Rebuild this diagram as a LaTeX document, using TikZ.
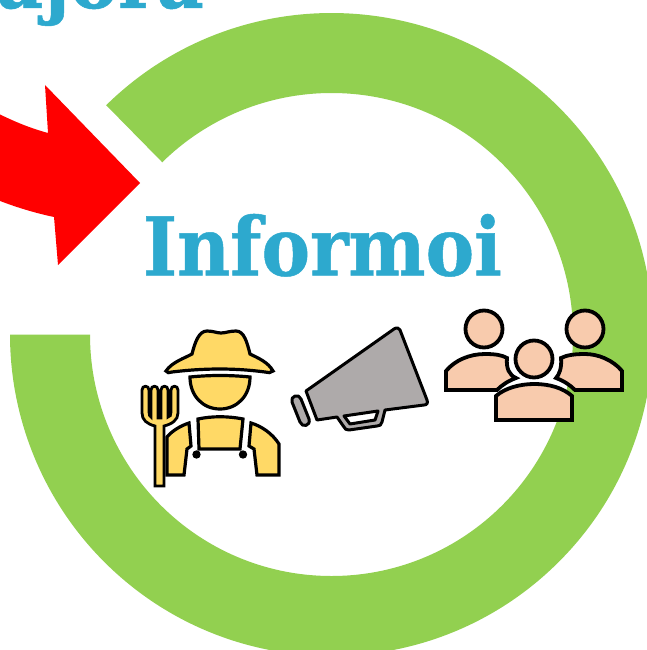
\documentclass[tikz,border=0pt]{standalone}
\usepackage{fontspec}
\newfontfamily\serifb[FakeBold=0.6]{DejaVu Serif Condensed Bold}
\definecolor{ringgreen}{HTML}{92D050}
\definecolor{titleblue}{HTML}{2DA9CE}
\definecolor{hatyellow}{HTML}{FFD966}
\definecolor{horngray}{HTML}{AEAAAA}
\definecolor{skinpeach}{HTML}{F8CBAD}
\tikzset{
 icon/.style={draw=black,line width=3.8pt,line join=miter},
 farmerline/.style={draw=black,line width=3.2pt,line join=miter},
 hornline/.style={draw=black,line width=3pt,line join=round},
 title/.style={text=titleblue,font=\serifb\fontsize{81}{81}\selectfont,inner sep=0pt,anchor=base}
}
\begin{document}
\begin{tikzpicture}[x=1pt,y=-1pt]
\useasboundingbox (0,0) rectangle (647,650);
\clip (0,0) rectangle (647,650);
\fill[white] (0,0) rectangle (647,650);
% ring
\fill[ringgreen] (331.5,334.5) ++(-134.5:321.5) arc[start angle=-134.5,end angle=180,radius=321.5] -- ++(80,0) arc[start angle=180,end angle=-134.5,radius=241.5] -- cycle;
% arrow
\fill[red] (-5,112) .. controls (15,122) and (30,128) .. (48,133) -- (45,85) -- (140,183) -- (58,265) -- (54,217) .. controls (35,213) and (15,207) .. (-5,199) -- cycle;
% text
\node[title] (informoi) at (322.5,275.5) {Informoi};
\node[title] (mejora) at (100,8) {ajora};
% farmer
\draw[farmerline,fill=hatyellow] (166,371) .. controls (172,362) and (185,358) .. (192,354) .. controls (195,342) and (199,331) .. (207,331) .. controls (213,331) and (217,333) .. (221,333) .. controls (225,333) and (230,331) .. (236,331) .. controls (244,331) and (247,342) .. (250,354) .. controls (258,358) and (268,362) .. (273,371) .. controls (271,373) and (268,373) .. (265,372) .. controls (235,368) and (205,368) .. (172,372) .. controls (169,373) and (167,373) .. (166,371) -- cycle;
\draw[farmerline,fill=hatyellow] (190,377) .. controls (210,375) and (230,375) .. (250,377) .. controls (250,396) and (237,409) .. (220,409) .. controls (203,409) and (190,396) .. (190,377) -- cycle;
\draw[farmerline,fill=hatyellow] (198,419) .. controls (212,416) and (228,416) .. (243,419) -- (240,449) -- (199,449) -- cycle;
\draw[farmerline,fill=hatyellow] (189,423) -- (191,446) -- (187,449) -- (184,475) -- (167,475) -- (167,437) .. controls (172,431) and (180,426) .. (189,423) -- cycle;
\draw[farmerline,fill=hatyellow] (251,423) .. controls (261,426) and (272,433) .. (279,444) -- (279,475) -- (257,475) -- (254,449) -- (249,446) -- cycle;
\fill[black] (196.5,454.5) circle (4.2);
\fill[black] (243,454.5) circle (4.2);
\draw[farmerline,line width=2.8pt,fill=hatyellow] (155,486) -- (155,426) .. controls (147,424) and (142,420) .. (142,413) -- (142,390) .. controls (142,385) and (149,385) .. (149,390) -- (149,412) .. controls (149,415) and (150,417) .. (151,417) -- (151,390) .. controls (151,385) and (158,385) .. (158,390) -- (158,418) -- (161,418) -- (161,390) .. controls (161,385) and (168,385) .. (168,390) -- (168,417) .. controls (170,417) and (171,415) .. (171,412) -- (171,390) .. controls (171,385) and (178,385) .. (178,390) -- (178,413) .. controls (178,420) and (172,424) .. (164,426) -- (164,486) -- cycle;
% megaphone
\draw[hornline,fill=horngray] (306,391) -- (394,329) .. controls (397,327) and (399,328) .. (400,330) -- (427,400) .. controls (428,403) and (427,405) .. (424,405) -- (385,410) -- (382,422) .. controls (381,425) and (380,426) .. (377,426) -- (349,430) .. controls (346,430) and (345,429) .. (344,427) -- (337,417) -- (317,420) -- cycle;
\draw[hornline,fill=white] (344,416) -- (378,411) -- (375,420) -- (350,424) -- cycle;
\draw[hornline,fill=horngray] (292,402) .. controls (290,396) and (299,393) .. (301,399) -- (309,419) .. controls (311,426) and (302,428) .. (300,422) -- cycle;
% people
\draw[icon,fill=skinpeach] (446,390) -- (446,371) .. controls (455,360) and (470,354) .. (485,354) .. controls (495,354) and (502,355) .. (507,358) .. controls (506,368) and (509,375) .. (516,378) .. controls (508,381) and (502,385) .. (497,390) -- cycle;
\draw[icon,fill=skinpeach] (622,390) -- (622,371) .. controls (613,360) and (598,354) .. (585,354) .. controls (575,354) and (567,355) .. (561,358) .. controls (562,368) and (559,375) .. (556,378) .. controls (564,381) and (570,385) .. (575,390) -- cycle;
\draw[icon,fill=skinpeach] (484,329) circle (18.5);
\draw[icon,fill=skinpeach] (585,329) circle (18.5);
\draw[icon,fill=skinpeach] (534,359) circle (18.5);
\draw[icon,fill=skinpeach] (496,420) -- (496,396) .. controls (505,388) and (520,384) .. (534,384) .. controls (550,384) and (563,388) .. (572,396) -- (572,420) -- cycle;
\end{tikzpicture}
\end{document}
